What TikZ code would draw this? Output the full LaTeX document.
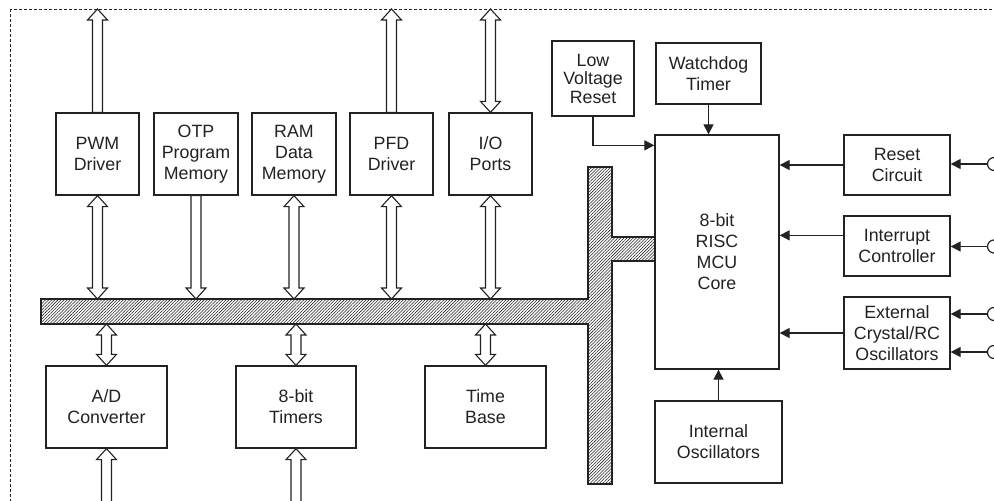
\documentclass[tikz,border=0pt]{standalone}
\usepackage{fontspec}
\setmainfont{Liberation Sans}
\usetikzlibrary{arrows.meta,patterns.meta,calc}
\definecolor{ink}{HTML}{222222}
\tikzset{
  box/.style={draw=ink, line width=1.3pt, align=center, inner sep=0pt, text=ink, font=\fontsize{17.8}{21}\selectfont},
  sig/.style={draw=ink, line width=1.2pt, -{Triangle[length=10pt,width=10pt]}},
  fat/.style={draw=ink, line width=1.1pt, fill=white, line join=miter},
  busstyle/.style={draw=ink, line width=1.3pt, pattern={Lines[angle=45,distance=2.2pt,line width=0.55pt]}, pattern color=ink},
  border/.style={draw=ink, line width=0.8pt, dash pattern=on 3pt off 2pt},
  inp/.style={draw=ink, line width=1.2pt, circle, minimum size=13pt, inner sep=0pt, fill=white}
}
% fat (hollow) vertical arrows: first argument is the lower point, second the upper point
\newcommand\fatboth[2]{\path[fat] let \p1=(#1), \p2=(#2) in
  (\x1,\y1) -- (\x1+10pt,\y1+11pt) -- (\x1+5pt,\y1+11pt) -- (\x1+5pt,\y2-11pt) -- (\x1+10pt,\y2-11pt)
  -- (\x1,\y2) -- (\x1-10pt,\y2-11pt) -- (\x1-5pt,\y2-11pt) -- (\x1-5pt,\y1+11pt) -- (\x1-10pt,\y1+11pt) -- cycle;}
\newcommand\fatup[2]{\path[fat] let \p1=(#1), \p2=(#2) in
  (\x1-5pt,\y1) -- (\x1+5pt,\y1) -- (\x1+5pt,\y2-11pt) -- (\x1+10pt,\y2-11pt)
  -- (\x1,\y2) -- (\x1-10pt,\y2-11pt) -- (\x1-5pt,\y2-11pt) -- cycle;}
\newcommand\fatdown[2]{\path[fat] let \p1=(#1), \p2=(#2) in
  (\x1,\y1) -- (\x1+10pt,\y1+11pt) -- (\x1+5pt,\y1+11pt) -- (\x1+5pt,\y2)
  -- (\x1-5pt,\y2) -- (\x1-5pt,\y1+11pt) -- (\x1-10pt,\y1+11pt) -- cycle;}
\begin{document}
\begin{tikzpicture}[x=1pt,y=-1pt]
\useasboundingbox (0,0) rectangle (994,501);
\clip (0,0) rectangle (994,501);
\fill[white] (0,0) rectangle (994,501);
\draw[border] (10,9) rectangle (1020,530);

\coordinate (border) at (0,9);
\coordinate (bustop) at (0,299);
\coordinate (busbot) at (0,324);
\coordinate (imgbot) at (0,515);

% bus
\path[busstyle] (41,299) -- (588,299) -- (588,167) -- (612,167) -- (612,237) -- (655,237)
  -- (655,261) -- (612,261) -- (612,484) -- (588,484) -- (588,324) -- (41,324) -- cycle;

% boxes
\node[box, minimum width=83pt, minimum height=82pt] (pwm) at (97.5,154) {PWM\\Driver};
\node[box, minimum width=84pt, minimum height=82pt] (otp) at (196,154) {OTP\\Program\\Memory};
\node[box, minimum width=84pt, minimum height=82pt] (ram) at (294,154) {RAM\\Data\\Memory};
\node[box, minimum width=83pt, minimum height=82pt] (pfd) at (391.5,154) {PFD\\Driver};
\node[box, minimum width=83pt, minimum height=82pt] (io) at (490.5,154) {I/O\\Ports};
\node[box, minimum width=82pt, minimum height=75pt, font=\fontsize{17.8}{18.5}\selectfont] (lvr) at (593,78.5) {Low\\Voltage\\Reset};
\node[box, minimum width=105pt, minimum height=61pt] (wdt) at (708.5,73.5) {Watchdog\\Timer};
\node[box, minimum width=124pt, minimum height=234pt] (mcu) at (717,252) {8-bit\\RISC\\MCU\\Core};
\node[box, minimum width=106pt, minimum height=60pt] (rst) at (897,165) {Reset\\Circuit};
\node[box, minimum width=106pt, minimum height=60pt] (int) at (897,246) {Interrupt\\Controller};
\node[box, minimum width=106pt, minimum height=72pt] (ext) at (897,333) {External\\Crystal/RC\\Oscillators};
\node[box, minimum width=127pt, minimum height=82pt] (ios) at (718.5,442) {Internal\\Oscillators};
\node[box, minimum width=121pt, minimum height=82pt] (adc) at (106.5,407) {A/D\\Converter};
\node[box, minimum width=120pt, minimum height=82pt] (tmr) at (296,407) {8-bit\\Timers};
\node[box, minimum width=121pt, minimum height=82pt] (tb) at (485.5,407) {Time\\Base};

% hollow bus arrows
\fatup{pwm.north}{pwm.north |- border}
\fatboth{pwm.south |- bustop}{pwm.south}
\fatdown{otp.south |- bustop}{otp.south}
\fatboth{ram.south |- bustop}{ram.south}
\fatup{pfd.north}{pfd.north |- border}
\fatboth{pfd.south |- bustop}{pfd.south}
\fatboth{io.north}{io.north |- border}
\fatboth{io.south |- bustop}{io.south}
\fatboth{adc.north}{adc.north |- busbot}
\fatboth{tmr.north}{tmr.north |- busbot}
\fatboth{tb.north}{tb.north |- busbot}
\fatup{adc.south |- imgbot}{adc.south}
\fatup{tmr.south |- imgbot}{tmr.south}

% signal arrows into the core
\draw[sig] (lvr.south) |- ($(mcu.north west)+(0,11)$);
\draw[sig] (wdt.south) -- (wdt.south |- mcu.north);
\draw[sig] (rst.west) -- (rst.west -| mcu.east);
\coordinate (intout) at ($(int.north west)+(0,20)$);
\draw[sig] (intout) -- (intout -| mcu.east);
\draw[sig] (ext.west) -- (ext.west -| mcu.east);
\draw[sig] (ios.north) -- (ios.north |- mcu.south);

% external inputs
\node[inp] (in1) at (994,164) {};
\node[inp] (in2) at (994,246.5) {};
\node[inp] (in3) at (994,314) {};
\node[inp] (in4) at (994,352) {};
\draw[sig] (in1) -- (in1 -| rst.east);
\draw[sig] (in2) -- (in2 -| int.east);
\draw[sig] (in3) -- (in3 -| ext.east);
\draw[sig] (in4) -- (in4 -| ext.east);
\end{tikzpicture}
\end{document}
